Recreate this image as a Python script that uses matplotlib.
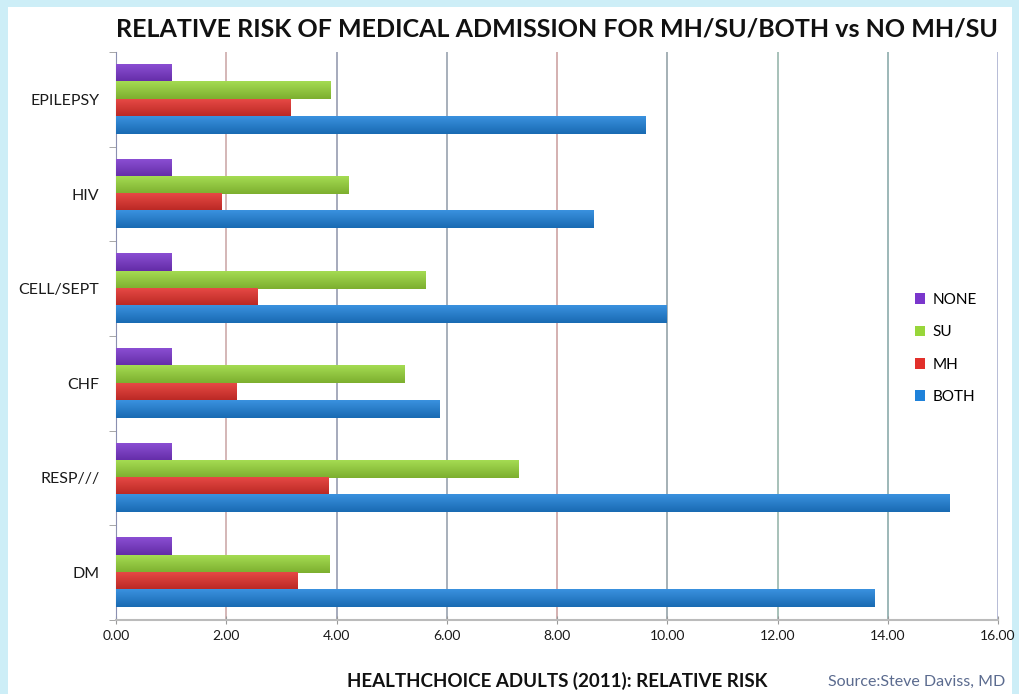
import matplotlib as mpl
mpl.use('Agg')
from matplotlib import pyplot as plt
from matplotlib.patches import Rectangle
import matplotlib.colors as mcolors
import numpy as np

categories = ['DM', 'RESP///', 'CHF', 'CELL/SEPT', 'HIV', 'EPILEPSY']
none_rr = [1.0, 1.0, 1.0, 1.0, 1.0, 1.0]
su_rr = [3.88, 7.30, 5.23, 5.61, 4.21, 3.90]
mh_rr = [3.30, 3.85, 2.18, 2.56, 1.91, 3.16]
both_rr = [13.76, 15.12, 5.86, 9.98, 8.66, 9.60]
xticks = [0, 2, 4, 6, 8, 10, 12, 14, 16]

series = [('NONE', none_rr, '#7a36cc'),
          ('SU', su_rr, '#98d63a'),
          ('MH', mh_rr, '#e2302b'),
          ('BOTH', both_rr, '#1f82da')]
grid_cols = ['#c9a3a3', '#8d93aa', '#8f9aa8', '#c99b9b', '#8c9ba2',
             '#8fb0a6', '#82a4a4', '#a3a9cc']

plt.rcParams['font.family'] = ['Lato', 'DejaVu Sans']

fig = plt.figure(figsize=(10.19, 6.94), dpi=100)
fig.patch.set_facecolor('#cdeef7')
# white card inside the light blue frame
fig.add_artist(Rectangle((8/1019, 0), (1012-8)/1019, 1-7/694,
                         transform=fig.transFigure, facecolor='white',
                         edgecolor='none', zorder=-10))

ax = fig.add_axes([116/1019, 74/694, 882/1019, 568/694])
ax.set_facecolor('none')

y = np.arange(len(categories))
h = 0.182
offs = [1.5*h, 0.5*h, -0.5*h, -1.5*h]


def shade(bar, color):
    # light-to-dark gradient across each bar
    x0, y0 = bar.get_x(), bar.get_y()
    w, hh = bar.get_width(), bar.get_height()
    c = np.array(mcolors.to_rgb(color))
    t = np.linspace(0, 1, 24)[:, None]
    light = c + (1 - c) * 0.12
    dark = c * 0.82
    grad = light * (1 - t) + dark * t
    ax.imshow(grad[:, None, :], extent=(x0, x0 + w, y0, y0 + hh),
              origin='upper', aspect='auto', zorder=3, interpolation='bilinear')


handles = []
for (name, vals, col), off in zip(series, offs):
    bars = ax.barh(y + off, vals, height=h, color=col, zorder=2, label=name)
    for b in bars:
        shade(b, col)
    handles.append(bars)

for xv, gc in zip(xticks[1:], grid_cols):
    ax.axvline(xv, color=gc, lw=1.1, zorder=1)

ax.set_xlim(0, 16)
ax.set_ylim(-0.5, len(categories) - 0.5)
ax.set_xticks(xticks)
ax.set_xticklabels(['%.2f' % v for v in xticks], fontsize=10, color='#1a1a1a')
ax.set_yticks(y)
ax.set_yticklabels(categories, fontsize=11.5, color='#1a1a1a')
ax.set_yticks(np.arange(-0.5, len(categories)), minor=True)
ax.tick_params(axis='y', which='major', length=0, pad=12)
ax.tick_params(axis='y', which='minor', length=5, color='#999999', direction='out')
ax.tick_params(axis='x', length=6, color='#999999', direction='inout', pad=4)

for s in ['top', 'right']:
    ax.spines[s].set_visible(False)
ax.spines['left'].set_color('#8a8fb0')
ax.spines['bottom'].set_color('#bbbbbb')
ax.spines['bottom'].set_linewidth(1.5)

ax.set_title('RELATIVE RISK OF MEDICAL ADMISSION FOR MH/SU/BOTH vs NO MH/SU',
             fontsize=18, fontweight='bold', color='#111111', pad=11)
ax.set_xlabel('HEALTHCHOICE ADULTS (2011): RELATIVE RISK', fontsize=13.5,
              fontweight='bold', color='#111111', labelpad=22)
fig.text(1005/1019, 1 - 682/694, 'Source:Steve Daviss, MD', ha='right',
         va='center', fontsize=11.5, color='#5b6b8f')

ax.legend(handles=handles, loc='upper left', bbox_to_anchor=(0.89, 0.6),
          frameon=False, fontsize=11, handlelength=0.7, handleheight=0.7,
          handletextpad=0.45, labelspacing=1.2)

plt.savefig('out.png', dpi=100, facecolor=fig.get_facecolor())
